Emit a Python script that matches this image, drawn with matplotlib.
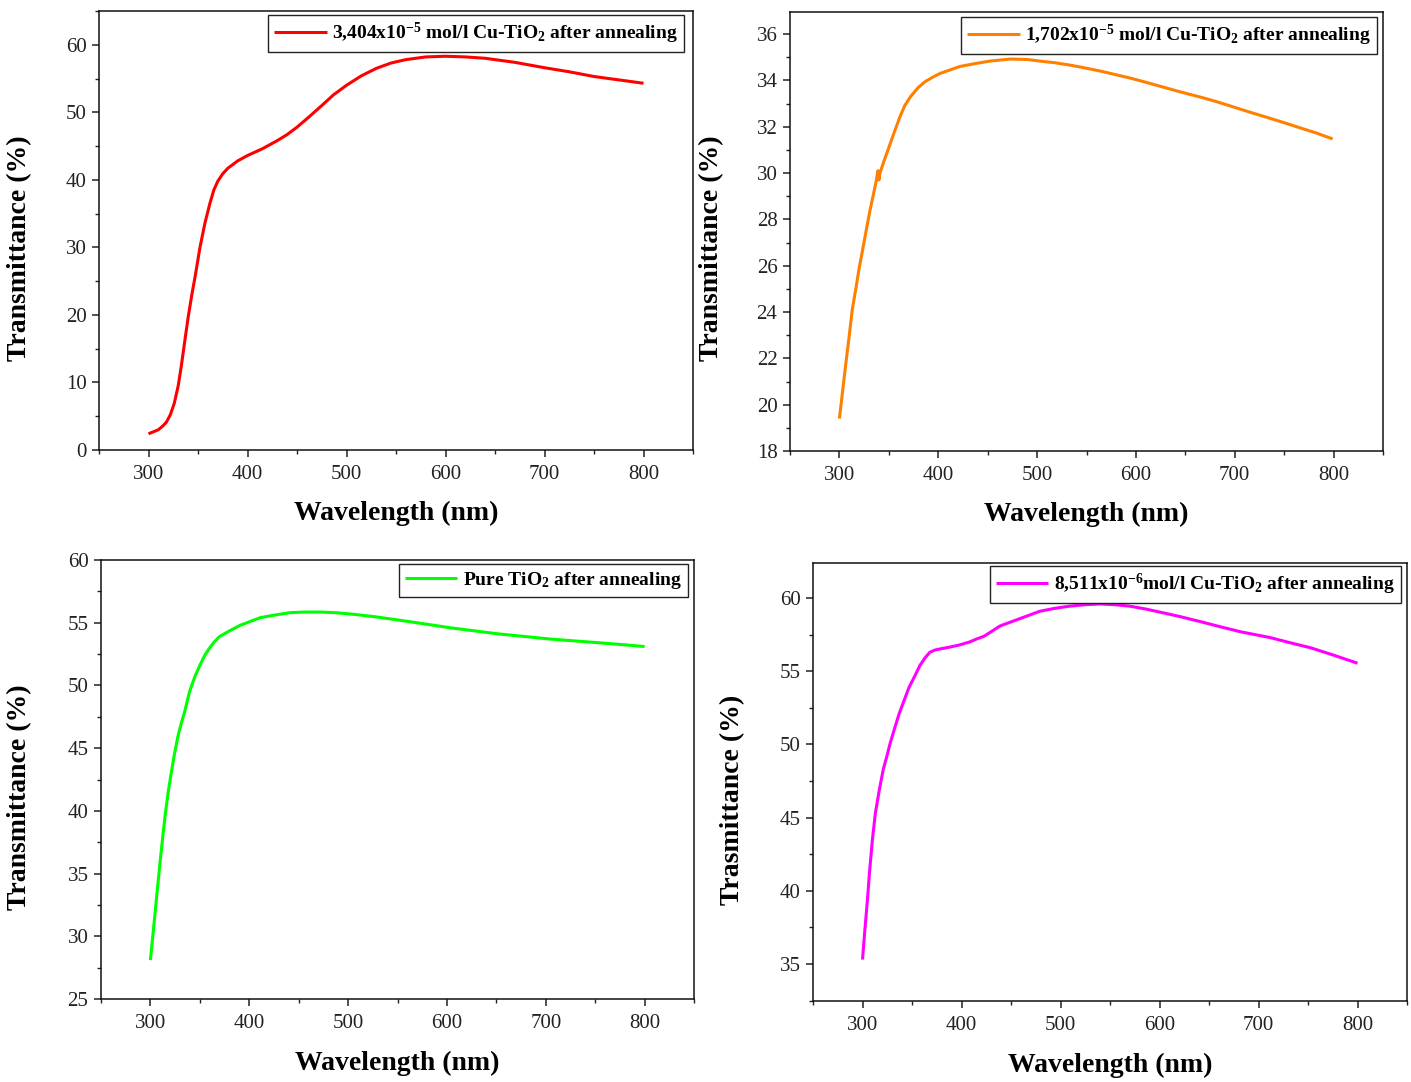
import matplotlib
matplotlib.use("Agg")
import matplotlib.pyplot as plt
from matplotlib.ticker import MultipleLocator

# ---- data (wavelength in nm, transmittance in %) ----
wl_cu34 = [300, 305, 310, 314, 318, 322, 326, 330, 333, 337, 340, 344, 347, 352,
           357, 362, 366, 370, 375, 380, 390, 400, 415, 430, 440, 450, 462, 475,
           487, 500, 515, 530, 545, 560, 580, 600, 620, 640, 670, 700, 725, 750,
           775, 800]
tr_cu34 = [2.4, 2.7, 3.0, 3.5, 4.1, 5.2, 6.9, 9.5, 12.3, 16.5, 19.6, 23.2, 25.6,
           30.0, 33.6, 36.5, 38.5, 39.8, 40.9, 41.7, 42.8, 43.6, 44.6, 45.8, 46.7,
           47.8, 49.3, 51.0, 52.6, 54.0, 55.4, 56.5, 57.3, 57.8, 58.2, 58.3, 58.2,
           58.0, 57.4, 56.6, 56.0, 55.3, 54.8, 54.3]

wl_cu17 = [300, 303, 306, 310, 313, 317, 320, 324, 327, 331, 334, 337, 339, 340,
           341, 345, 350, 355, 361, 366, 372, 380, 387, 395, 402, 412, 422, 437,
           452, 473, 490, 503, 518, 533, 548, 564, 579, 594, 609, 624, 645, 665,
           680, 695, 715, 735, 750, 766, 783, 799]
tr_cu17 = [19.4, 20.5, 21.6, 23.0, 24.1, 25.1, 25.9, 26.8, 27.5, 28.4, 29.0, 29.6,
           30.1, 29.7, 30.0, 30.5, 31.1, 31.7, 32.4, 32.9, 33.3, 33.7, 33.95, 34.15,
           34.3, 34.45, 34.6, 34.72, 34.83, 34.92, 34.9, 34.83, 34.76, 34.66, 34.54,
           34.4, 34.25, 34.1, 33.93, 33.75, 33.5, 33.28, 33.1, 32.9, 32.63, 32.37,
           32.17, 31.95, 31.72, 31.47]

wl_pure = [300, 303, 305, 308, 310, 313, 315, 318, 320, 324, 328, 332, 335, 338,
           340, 345, 350, 355, 360, 365, 370, 380, 391, 401, 411, 425, 441, 456,
           472, 487, 502, 527, 552, 578, 603, 628, 653, 679, 704, 729, 754, 778, 800]
tr_pure = [28.1, 30.5, 32.1, 34.5, 36.1, 38.3, 39.7, 41.5, 42.5, 44.4, 46.0, 47.2,
           48.0, 49.0, 49.6, 50.7, 51.6, 52.4, 53.0, 53.5, 53.9, 54.35, 54.8, 55.1,
           55.4, 55.6, 55.8, 55.85, 55.85, 55.8, 55.7, 55.48, 55.2, 54.9, 54.6,
           54.35, 54.1, 53.9, 53.7, 53.55, 53.4, 53.25, 53.1]

wl_cu85 = [300, 302, 305, 307, 310, 313, 317, 321, 325, 328, 332, 337, 342, 347,
           353, 358, 363, 368, 373, 380, 388, 398, 408, 415, 423, 431, 439, 449,
           459, 469, 479, 494, 509, 525, 540, 555, 570, 585, 600, 620, 641, 661,
           682, 697, 712, 732, 753, 776, 800]
tr_cu85 = [35.3, 37.0, 39.4, 41.2, 43.5, 45.3, 46.9, 48.3, 49.3, 50.1, 51.0, 52.1,
           53.0, 53.9, 54.7, 55.4, 55.9, 56.3, 56.45, 56.55, 56.65, 56.8, 57.0,
           57.2, 57.4, 57.75, 58.1, 58.35, 58.6, 58.85, 59.1, 59.3, 59.45, 59.55,
           59.6, 59.55, 59.45, 59.27, 59.05, 58.75, 58.4, 58.05, 57.7, 57.5, 57.3,
           56.95, 56.6, 56.1, 55.55]

labels = [
    r"3,404x10$^{-5}$ mol/l Cu-TiO$_{2}$ after annealing",
    r"1,702x10$^{-5}$ mol/l Cu-TiO$_{2}$ after annealing",
    r"Pure TiO$_{2}$ after annealing",
    r"8,511x10$^{-6}$mol/l Cu-TiO$_{2}$ after annealing",
]
colors = ["#FF0000", "#FF8000", "#00FF00", "#FF00FF"]
ylabels = ["Transmittance (%)", "Transmittance (%)",
           "Transmittance (%)", "Trasmittance (%)"]
xlabel = "Wavelength (nm)"

plt.rcParams["font.family"] = ["Liberation Serif", "DejaVu Serif"]
plt.rcParams["mathtext.fontset"] = "custom"
plt.rcParams["mathtext.rm"] = "Liberation Serif:bold"
plt.rcParams["mathtext.it"] = "Liberation Serif:bold"
plt.rcParams["mathtext.bf"] = "Liberation Serif:bold"

W, H = 1411, 1082
fig = plt.figure(figsize=(W / 100, H / 100), dpi=100)


def px_axes(left, top, right, bottom):
    return fig.add_axes([left / W, 1 - bottom / H, (right - left) / W, (bottom - top) / H])


panels = [
    dict(box=(99, 11, 693, 450), ylim=(0, 65), major=10, minor=5,
         x=wl_cu34, y=tr_cu34, leg=(9, 4), ylab=(20, 248), xlab=(396, 513)),
    dict(box=(790, 12, 1383, 451), ylim=(18, 36.95), major=2, minor=1,
         x=wl_cu17, y=tr_cu17, leg=(6, 5), ylab=(712, 248), xlab=(1086, 514)),
    dict(box=(101, 560, 694, 999), ylim=(25, 60), major=5, minor=2.5,
         x=wl_pure, y=tr_pure, leg=(6, 4), ylab=(20, 797), xlab=(397, 1063)),
    dict(box=(813, 563, 1407, 1001), ylim=(32.47, 62.4), major=5, minor=2.5,
         x=wl_cu85, y=tr_cu85, leg=(6, 3), ylab=(733, 800), xlab=(1110, 1065)),
]

for i, p in enumerate(panels):
    ax = px_axes(*p["box"])
    ax.plot(p["x"], p["y"], color=colors[i], lw=2.2, label=labels[i],
            solid_joinstyle="round", solid_capstyle="butt")
    ax.set_xlim(250, 850)
    ax.set_ylim(*p["ylim"])
    ax.xaxis.set_major_locator(MultipleLocator(100))
    ax.xaxis.set_minor_locator(MultipleLocator(50))
    ax.yaxis.set_major_locator(MultipleLocator(p["major"]))
    ax.yaxis.set_minor_locator(MultipleLocator(p["minor"]))
    ax.tick_params(which="major", direction="out", length=5, width=1.1,
                   labelsize=15, pad=4, colors="#222222")
    ax.tick_params(axis="x", which="major", pad=6)
    ax.tick_params(which="minor", direction="out", length=3, width=1.0,
                   colors="#222222")
    for s in ax.spines.values():
        s.set_linewidth(1.1)
        s.set_color("#111111")

    bw = p["box"][2] - p["box"][0]
    bh = p["box"][3] - p["box"][1]
    dx, dy = p["leg"]
    leg = ax.legend(loc="upper right", bbox_to_anchor=(1 - dx / bw, 1 - dy / bh),
                    borderaxespad=0, fancybox=False, edgecolor="#222222",
                    framealpha=1, handlelength=2.7, handletextpad=0.3,
                    borderpad=0.3,
                    prop=dict(family="Liberation Serif", weight="bold", size=14))
    leg.get_frame().set_linewidth(1.0)

    fig.text(p["ylab"][0] / W, 1 - p["ylab"][1] / H, ylabels[i], rotation=90,
             ha="center", va="center", fontsize=20, fontweight="bold")
    fig.text(p["xlab"][0] / W, 1 - p["xlab"][1] / H, xlabel,
             ha="center", va="center", fontsize=20, fontweight="bold")

fig.savefig("out.png", dpi=100)
